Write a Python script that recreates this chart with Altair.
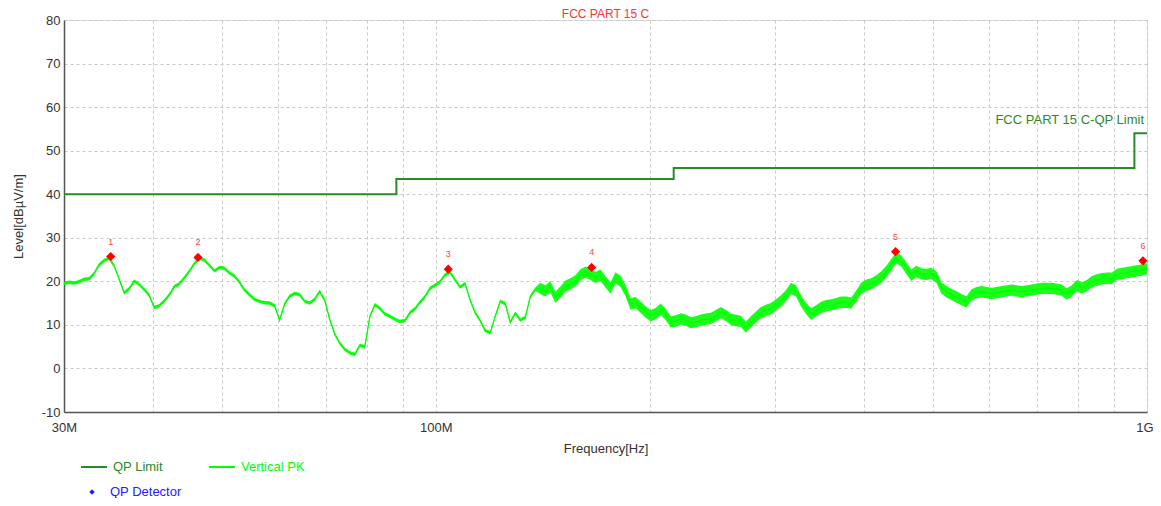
import altair as alt
import pandas as pd
import numpy as np

# ---------------- data ----------------
LIMIT_FREQ_MHZ = [30, 88, 88, 216, 216, 960, 960, 1000]
LIMIT_LEVEL = [40, 40, 43.5, 43.5, 46, 46, 54, 54]
LIMIT_NAME = "FCC PART 15 C-QP Limit"

# Peak sweep: log-spaced sweep from 30 MHz to 1 GHz
PK_START_MHZ = 30
PK_STOP_MHZ = 1000
PK_LEVEL = [
    19.5, 19.8, 19.6, 19.9, 20.5, 20.6, 21.8, 23.8, 24.8, 25.3,
    23.6, 20.5, 17.4, 18.3, 20.1, 19.3, 18.1, 16.8, 14.0, 14.4,
    15.5, 16.9, 18.8, 19.4, 20.8, 22.3, 24.1, 25.3, 24.9, 23.7,
    22.4, 23.2, 23.0, 21.9, 21.2, 19.8, 18.0, 16.9, 15.9, 15.4,
    15.1, 15.0, 14.4, 11.1, 14.8, 16.6, 17.2, 17.0, 15.4, 15.0,
    15.9, 17.7, 15.6, 11.3, 7.9, 5.8, 4.4, 3.6, 3.2, 5.3,
    5.0, 11.9, 14.6, 13.8, 12.5, 12.0, 11.3, 10.8, 11.0, 12.8,
    13.7, 15.2, 16.5, 18.4, 19.1, 19.9, 21.5, 22.1, 20.3, 18.7,
    19.5, 15.7, 12.8, 11.0, 8.7, 8.2, 11.9, 15.4, 14.9, 10.6,
    12.7, 11.1, 11.7, 16.5, 18.2, 18.4, 17.8, 18.8, 16.3, 17.5,
    18.9, 19.4, 20.1, 21.5, 22.1, 21.6, 20.9, 21.4, 19.9, 18.5,
    20.8, 20.0, 17.9, 14.8, 15.1, 14.1, 13.0, 12.1, 12.6, 13.6,
    12.4, 10.7, 10.9, 11.4, 11.1, 10.5, 10.7, 11.1, 11.3, 11.5,
    12.1, 12.8, 12.2, 11.3, 11.0, 10.8, 9.5, 10.7, 11.8, 12.8,
    13.3, 13.7, 14.6, 15.5, 16.7, 18.4, 17.8, 15.5, 13.8, 12.5,
    13.2, 14.0, 14.4, 14.6, 14.9, 15.2, 15.2, 15.0, 16.6, 18.4,
    19.1, 19.4, 20.1, 21.0, 22.2, 23.8, 25.4, 24.7, 23.0, 21.4,
    22.3, 21.7, 21.6, 21.8, 21.0, 18.5, 17.6, 17.0, 16.4, 15.8,
    15.3, 16.9, 17.4, 17.6, 17.4, 17.2, 17.4, 17.6, 17.8, 18.0,
    17.8, 17.6, 17.8, 18.0, 18.2, 18.4, 18.4, 18.4, 18.2, 18.0,
    17.1, 17.8, 19.0, 18.5, 19.0, 19.9, 20.3, 20.6, 20.7, 20.7,
    21.6, 21.8, 22.0, 22.2, 22.4, 22.6, 22.9,
]
# visual thickness of the noisy trace (dB, half width) below / above 140 MHz
PK_NOISE_HALF = [0.4, 1.3]
PK_NOISE_SPLIT_MHZ = 140

QP_FREQ_MHZ = [34.9, 46.3, 104.1, 165.6, 443.0, 987.0]
QP_LEVEL = [25.7, 25.5, 22.8, 23.2, 26.8, 24.7]
QP_ID = ["1", "2", "3", "4", "5", "6"]

X_GRID = [30, 40, 50, 60, 70, 80, 90, 100, 200, 300, 400, 500, 600, 700, 800, 900, 1000]
Y_TICKS = list(range(-10, 81, 10))

TITLE = "FCC PART 15 C"
FONT = "Liberation Sans"
C_LIMIT = "#2a8a2a"
C_PK = "#00ff00"
C_QP = "#ff0000"
C_DET = "#2020ff"

W, H = 1083, 392

# ---------------- tables ----------------
pk_freq = np.geomspace(PK_START_MHZ, PK_STOP_MHZ, len(PK_LEVEL))
pk_lvl = np.array(PK_LEVEL)
half = np.where(pk_freq < PK_NOISE_SPLIT_MHZ, PK_NOISE_HALF[0], PK_NOISE_HALF[1])
pk = pd.DataFrame({"f": pk_freq, "lvl": pk_lvl, "lo": pk_lvl - half, "hi": pk_lvl + half})
lim = pd.DataFrame({"f": LIMIT_FREQ_MHZ, "lvl": LIMIT_LEVEL, "i": range(len(LIMIT_LEVEL))})
qp = pd.DataFrame({"f": QP_FREQ_MHZ, "lvl": QP_LEVEL, "id": QP_ID})
lim_lab = pd.DataFrame({"f": [LIMIT_FREQ_MHZ[-1]], "lvl": [LIMIT_LEVEL[-1]], "t": [LIMIT_NAME]})

xscale = alt.Scale(type="log", domain=[30, 1000], nice=False)
yscale = alt.Scale(domain=[-10, 80], nice=False)

label_expr = ("datum.value == 30 ? '30M' : datum.value == 100 ? '100M' : "
              "datum.value == 1000 ? '1G' : ''")

x_axis = alt.Axis(values=X_GRID, labelExpr=label_expr, title="Frequency[Hz]",
                  grid=True, gridDash=[3, 3], gridColor="#c8c8c8", ticks=False,
                  labelPadding=9, labelFontSize=13, labelColor="#333333", labelFlush=False,
                  labelAlign={"condition": {"test": "datum.value == 1000", "value": "right"},
                              "value": "center"},
                  labelOffset={"condition": {"test": "datum.value == 1000", "value": 6},
                               "value": 0},
                  titleFontSize=13, titleFontWeight="normal", titleColor="#333333",
                  titlePadding=8, domainColor="#555555", domainWidth=1.5, labelOverlap=False)
y_axis = alt.Axis(values=Y_TICKS, title="Level[dBµV/m]", grid=True, gridDash=[3, 3],
                  labelExpr="datum.value < 0 ? '-' + abs(datum.value) : '' + datum.value",
                  gridColor="#c8c8c8", ticks=False, labelPadding=4, labelFontSize=13,
                  labelColor="#333333", titleFontSize=13, titleFontWeight="normal",
                  titleColor="#333333", titlePadding=16, domainColor="#555555",
                  domainWidth=1.5)

X = alt.X("f:Q", scale=xscale, axis=x_axis)
Y = alt.Y("lvl:Q", scale=yscale, axis=y_axis)

band = alt.Chart(pk).mark_area(color=C_PK, opacity=0.9, interpolate="linear").encode(
    x=alt.X("f:Q", scale=xscale), y=alt.Y("lo:Q", scale=yscale), y2="hi:Q")
trace = alt.Chart(pk).mark_line(color=C_PK, strokeWidth=1.2).encode(x=X, y=Y)
limit = alt.Chart(lim).mark_line(color=C_LIMIT, strokeWidth=2).encode(
    x=alt.X("f:Q", scale=xscale), y=alt.Y("lvl:Q", scale=yscale), order="i:Q")
limit_text = alt.Chart(lim_lab).mark_text(
    color=C_LIMIT, font=FONT, fontSize=13, align="right", baseline="bottom", dx=-3, dy=-6
).encode(x=alt.X("f:Q", scale=xscale), y=alt.Y("lvl:Q", scale=yscale), text="t:N")
qp_pts = alt.Chart(qp).mark_point(shape="diamond", filled=True, color=C_QP, size=85, opacity=1).encode(
    x=alt.X("f:Q", scale=xscale), y=alt.Y("lvl:Q", scale=yscale))
qp_txt = alt.Chart(qp).mark_text(color="#ff4040", font=FONT, fontSize=9, dy=-15).encode(
    x=alt.X("f:Q", scale=xscale), y=alt.Y("lvl:Q", scale=yscale), text="id:N")

# ---------------- title and manual legend ----------------
one = pd.DataFrame({"a": [0]})
title_mark = alt.Chart(one).mark_text(text=TITLE, color="#ff3333", font=FONT, fontSize=12,
                                      align="center", baseline="middle").encode(
    x=alt.value(W / 2), y=alt.value(-6))
leg = [
    alt.Chart(one).mark_rule(color=C_LIMIT, strokeWidth=2).encode(
        x=alt.value(17), x2=alt.value(43), y=alt.value(447)),
    alt.Chart(one).mark_text(text="QP Limit", color=C_LIMIT, font=FONT, fontSize=13,
                             align="left", baseline="middle").encode(x=alt.value(49), y=alt.value(447)),
    alt.Chart(one).mark_rule(color=C_PK, strokeWidth=2).encode(
        x=alt.value(145), x2=alt.value(171), y=alt.value(447)),
    alt.Chart(one).mark_text(text="Vertical PK", color=C_PK, font=FONT, fontSize=13,
                             align="left", baseline="middle").encode(x=alt.value(177), y=alt.value(447)),
    alt.Chart(one).mark_point(shape="diamond", filled=True, color=C_DET, size=30, opacity=1).encode(
        x=alt.value(28), y=alt.value(472)),
    alt.Chart(one).mark_text(text="QP Detector", color=C_DET, font=FONT, fontSize=13,
                             align="left", baseline="middle").encode(x=alt.value(46), y=alt.value(472)),
]

chart = alt.layer(band, trace, limit, limit_text, qp_pts, qp_txt, title_mark, *leg).properties(
    width=W, height=H,
    autosize=alt.AutoSizeParams(type="none"),
    padding={"left": 56, "top": 12, "right": 6, "bottom": 86},
).configure_view(stroke=None).configure(font=FONT)

chart.save("out.html", embed_options={"renderer": "svg", "actions": False})
